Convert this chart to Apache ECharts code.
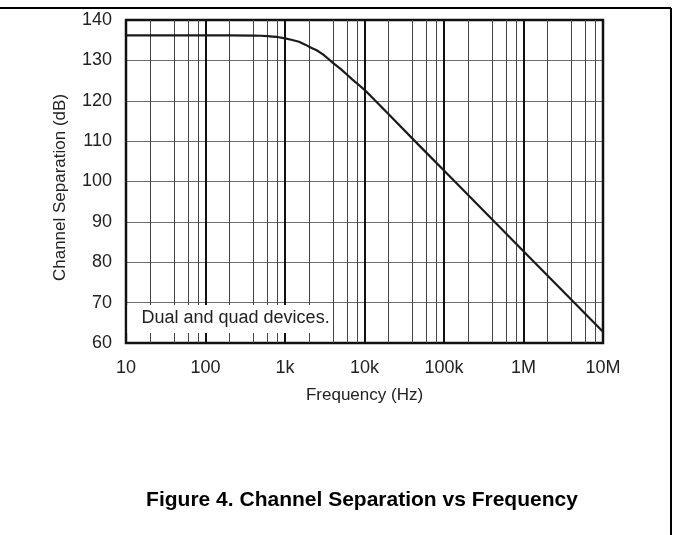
<!DOCTYPE html>
<html><head><meta charset="utf-8">
<script src="https://cdn.jsdelivr.net/npm/echarts@6/dist/echarts.min.js"></script>
<style>html,body{margin:0;padding:0;background:#fff}#c{width:673px;height:535px}</style>
</head><body><div id="c"></div>
<script>
// Data
const freqHz = [10, 100, 200, 400, 500, 600, 700, 800, 1000, 1200, 1500, 1800, 2000, 2500, 3000, 3500, 4000, 5000, 6000, 7000, 8500, 10000, 20000, 50000, 100000, 1000000, 10000000];
const separationDb = [136.2, 136.2, 136.2, 136.15, 136.1, 136.0, 135.9, 135.8, 135.45, 135.1, 134.6, 133.9, 133.4, 132.5, 131.5, 130.4, 129.4, 127.9, 126.5, 125.3, 123.9, 122.7, 116.7, 108.7, 102.7, 82.7, 62.8];
const xTickValues = [10, 100, 1000, 10000, 100000, 1000000, 10000000];
const xTickLabels = ['10', '100', '1k', '10k', '100k', '1M', '10M'];
const xMinorTicks = [20, 40, 60, 80, 200, 400, 600, 800, 2000, 4000, 6000, 8000,
  20000, 40000, 60000, 80000, 200000, 400000, 600000, 800000,
  2000000, 4000000, 6000000, 8000000];
const yMin = 60, yMax = 140, yStep = 10;

const FONT = '"Liberation Sans", Arial, Helvetica, sans-serif';
const chart = echarts.init(document.getElementById('c'), null, {renderer: 'canvas'});

const seriesData = freqHz.map((f, i) => [f, separationDb[i]]);

chart.setOption({
  animation: false,
  backgroundColor: '#fff',
  grid: {left: 126, right: 70, top: 20, bottom: 192, show: true, borderColor: '#111', borderWidth: 2.5, backgroundColor: 'transparent', z: 3},
  xAxis: {
    type: 'log', logBase: 10, min: 10, max: 10000000, splitNumber: 6,
    name: 'Frequency (Hz)', nameLocation: 'middle', nameGap: 44,
    nameTextStyle: {fontFamily: FONT, fontSize: 17, color: '#222'},
    axisLine: {show: false}, axisTick: {show: false},
    axisLabel: {
      margin: 16, fontFamily: FONT, fontSize: 18, color: '#222',
      formatter: v => { const i = xTickValues.findIndex(t => Math.abs(t - v) / t < 1e-6); return i >= 0 ? xTickLabels[i] : ''; }
    },
    splitLine: {show: true, lineStyle: {color: '#111', width: 2}}
  },
  yAxis: {
    type: 'value', min: yMin, max: yMax, interval: yStep,
    name: 'Channel Separation (dB)', nameLocation: 'middle', nameGap: 57,
    nameTextStyle: {fontFamily: FONT, fontSize: 17, color: '#222', padding: [0, 12, 0, 0]},
    axisLine: {show: false}, axisTick: {show: false},
    axisLabel: {margin: 14, fontFamily: FONT, fontSize: 18, color: '#222'},
    splitLine: {show: true, lineStyle: {color: '#6e6e6e', width: 1}}
  },
  series: [
    {
      type: 'line', data: [], z: 1, silent: true,
      markLine: {
        silent: true, symbol: 'none', animation: false,
        label: {show: false},
        lineStyle: {color: '#444', width: 1, type: 'solid'},
        data: xMinorTicks.map(v => ({xAxis: v}))
      }
    },
    {
      type: 'line', data: seriesData, z: 5,
      showSymbol: false, smooth: false,
      lineStyle: {color: '#1a1a1a', width: 2.2, join: 'round'}
    }
  ],
  graphic: [
    {type: 'line', z: 100, shape: {x1: 0, y1: 8, x2: 671, y2: 8}, style: {stroke: '#000', lineWidth: 2}},
    {type: 'line', z: 100, shape: {x1: 671, y1: 8, x2: 671, y2: 535}, style: {stroke: '#000', lineWidth: 2}},
    {type: 'rect', z: 100, shape: {x: 127.5, y: 305, width: 205.5, height: 28}, style: {fill: '#fff'}},
    {type: 'text', z: 101, x: 141.5, y: 318, style: {text: 'Dual and quad devices.', font: '18px ' + FONT, fill: '#222', textVerticalAlign: 'middle', verticalAlign: 'middle'}},
    {type: 'text', z: 101, x: 362, y: 500.5, style: {text: 'Figure 4. Channel Separation vs Frequency', font: 'bold 21px ' + FONT, fill: '#000', textAlign: 'center', align: 'center', textVerticalAlign: 'middle', verticalAlign: 'middle'}}
  ]
});
</script>
</body></html>
